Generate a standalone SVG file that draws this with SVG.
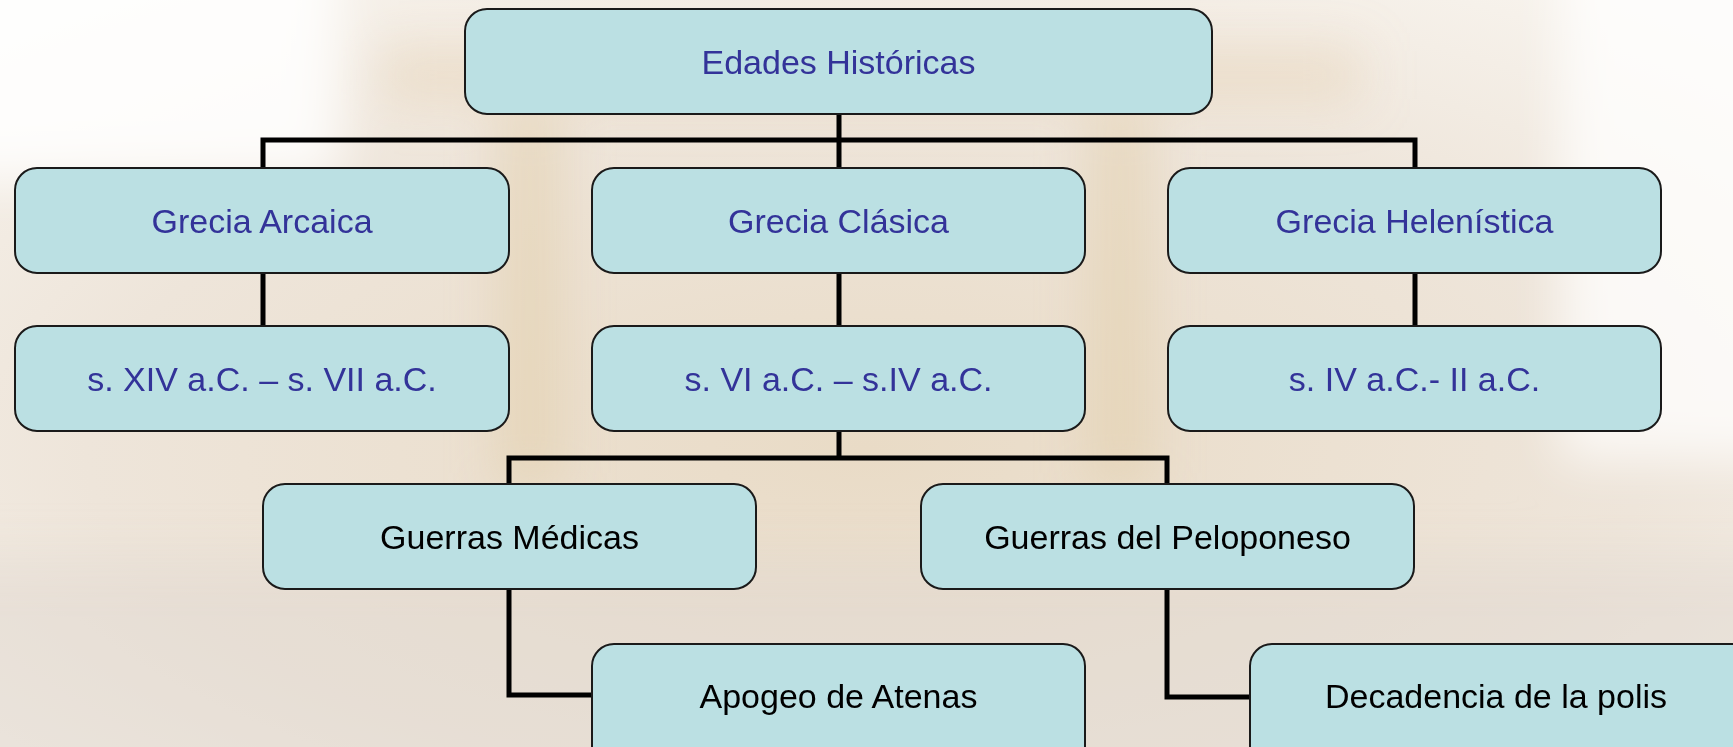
<svg xmlns="http://www.w3.org/2000/svg" width="1733" height="747" viewBox="0 0 1733 747">
  <defs>
    <radialGradient id="bg" cx="0.5" cy="0.6" r="0.75">
      <stop offset="0" stop-color="#E9DBC6"/>
      <stop offset="0.6" stop-color="#EEE5DA"/>
      <stop offset="1" stop-color="#F8F4EE"/>
    </radialGradient>
    <filter id="soft" x="-20%" y="-20%" width="140%" height="140%">
      <feGaussianBlur stdDeviation="25"/>
    </filter>
  </defs>
  <style>
    .box { fill: #BBE0E3; stroke: #1a1a1a; stroke-width: 2; }
    .t { font-family: "Liberation Sans", Arial, sans-serif; font-size: 34px; text-anchor: middle; fill: #333399; }
    .k { fill: #000000; }
    .c { fill: none; stroke: #000000; stroke-width: 5; stroke-linecap: square; stroke-linejoin: miter; }
  </style>
  <g id="background">
    <rect x="0" y="0" width="1733" height="747" fill="url(#bg)"/>
    <g filter="url(#soft)">
      <rect x="-60" y="-60" width="400" height="240" fill="#FFFFFF" opacity="0.85"/>
      <rect x="1560" y="-60" width="240" height="520" fill="#FFFFFF" opacity="0.75"/>
      <rect x="380" y="50" width="980" height="50" fill="#E4CFAE" opacity="0.45"/>
      <rect x="500" y="110" width="60" height="380" fill="#E2CBA6" opacity="0.5"/>
      <rect x="1090" y="110" width="60" height="380" fill="#E2CBA6" opacity="0.5"/>
      <rect x="-60" y="560" width="1850" height="250" fill="#DFD8CF" opacity="0.5"/>
    </g>
  </g>
  <g id="connectors">
    <path class="c" d="M839 114 V140 M263 168 V140 H1415 V168 M839 140 V168"/>
    <path class="c" d="M263 273 V326 M839 273 V326 M1415 273 V326"/>
    <path class="c" d="M839 431 V458 M509 484 V458 H1167 V484"/>
    <path class="c" d="M509 589 V695 H592"/>
    <path class="c" d="M1167 589 V697 H1250"/>
  </g>
  <g id="n-edades">
    <rect class="box" x="465" y="9" width="747" height="105" rx="22"/>
    <text class="t" x="838.5" y="73.5">Edades Históricas</text>
  </g>
  <g id="n-arcaica">
    <rect class="box" x="15" y="168" width="494" height="105" rx="22"/>
    <text class="t" x="262" y="232.5">Grecia Arcaica</text>
  </g>
  <g id="n-clasica">
    <rect class="box" x="592" y="168" width="493" height="105" rx="22"/>
    <text class="t" x="838.5" y="232.5">Grecia Clásica</text>
  </g>
  <g id="n-helenistica">
    <rect class="box" x="1168" y="168" width="493" height="105" rx="22"/>
    <text class="t" x="1414.5" y="232.5">Grecia Helenística</text>
  </g>
  <g id="n-arcaica-fecha">
    <rect class="box" x="15" y="326" width="494" height="105" rx="22"/>
    <text class="t" x="262" y="390.5">s. XIV a.C. – s. VII a.C.</text>
  </g>
  <g id="n-clasica-fecha">
    <rect class="box" x="592" y="326" width="493" height="105" rx="22"/>
    <text class="t" x="838.5" y="390.5">s. VI a.C. – s.IV a.C.</text>
  </g>
  <g id="n-helenistica-fecha">
    <rect class="box" x="1168" y="326" width="493" height="105" rx="22"/>
    <text class="t" x="1414.5" y="390.5">s. IV a.C.- II a.C.</text>
  </g>
  <g id="n-medicas">
    <rect class="box" x="263" y="484" width="493" height="105" rx="22"/>
    <text class="t k" x="509.5" y="548.5">Guerras Médicas</text>
  </g>
  <g id="n-peloponeso">
    <rect class="box" x="921" y="484" width="493" height="105" rx="22"/>
    <text class="t k" x="1167.5" y="548.5">Guerras del Peloponeso</text>
  </g>
  <g id="n-apogeo">
    <rect class="box" x="592" y="644" width="493" height="130" rx="22"/>
    <text class="t k" x="838.5" y="708">Apogeo de Atenas</text>
  </g>
  <g id="n-decadencia">
    <rect class="box" x="1250" y="644" width="520" height="130" rx="22"/>
    <text class="t k" x="1496" y="708">Decadencia de la polis</text>
  </g>
</svg>
